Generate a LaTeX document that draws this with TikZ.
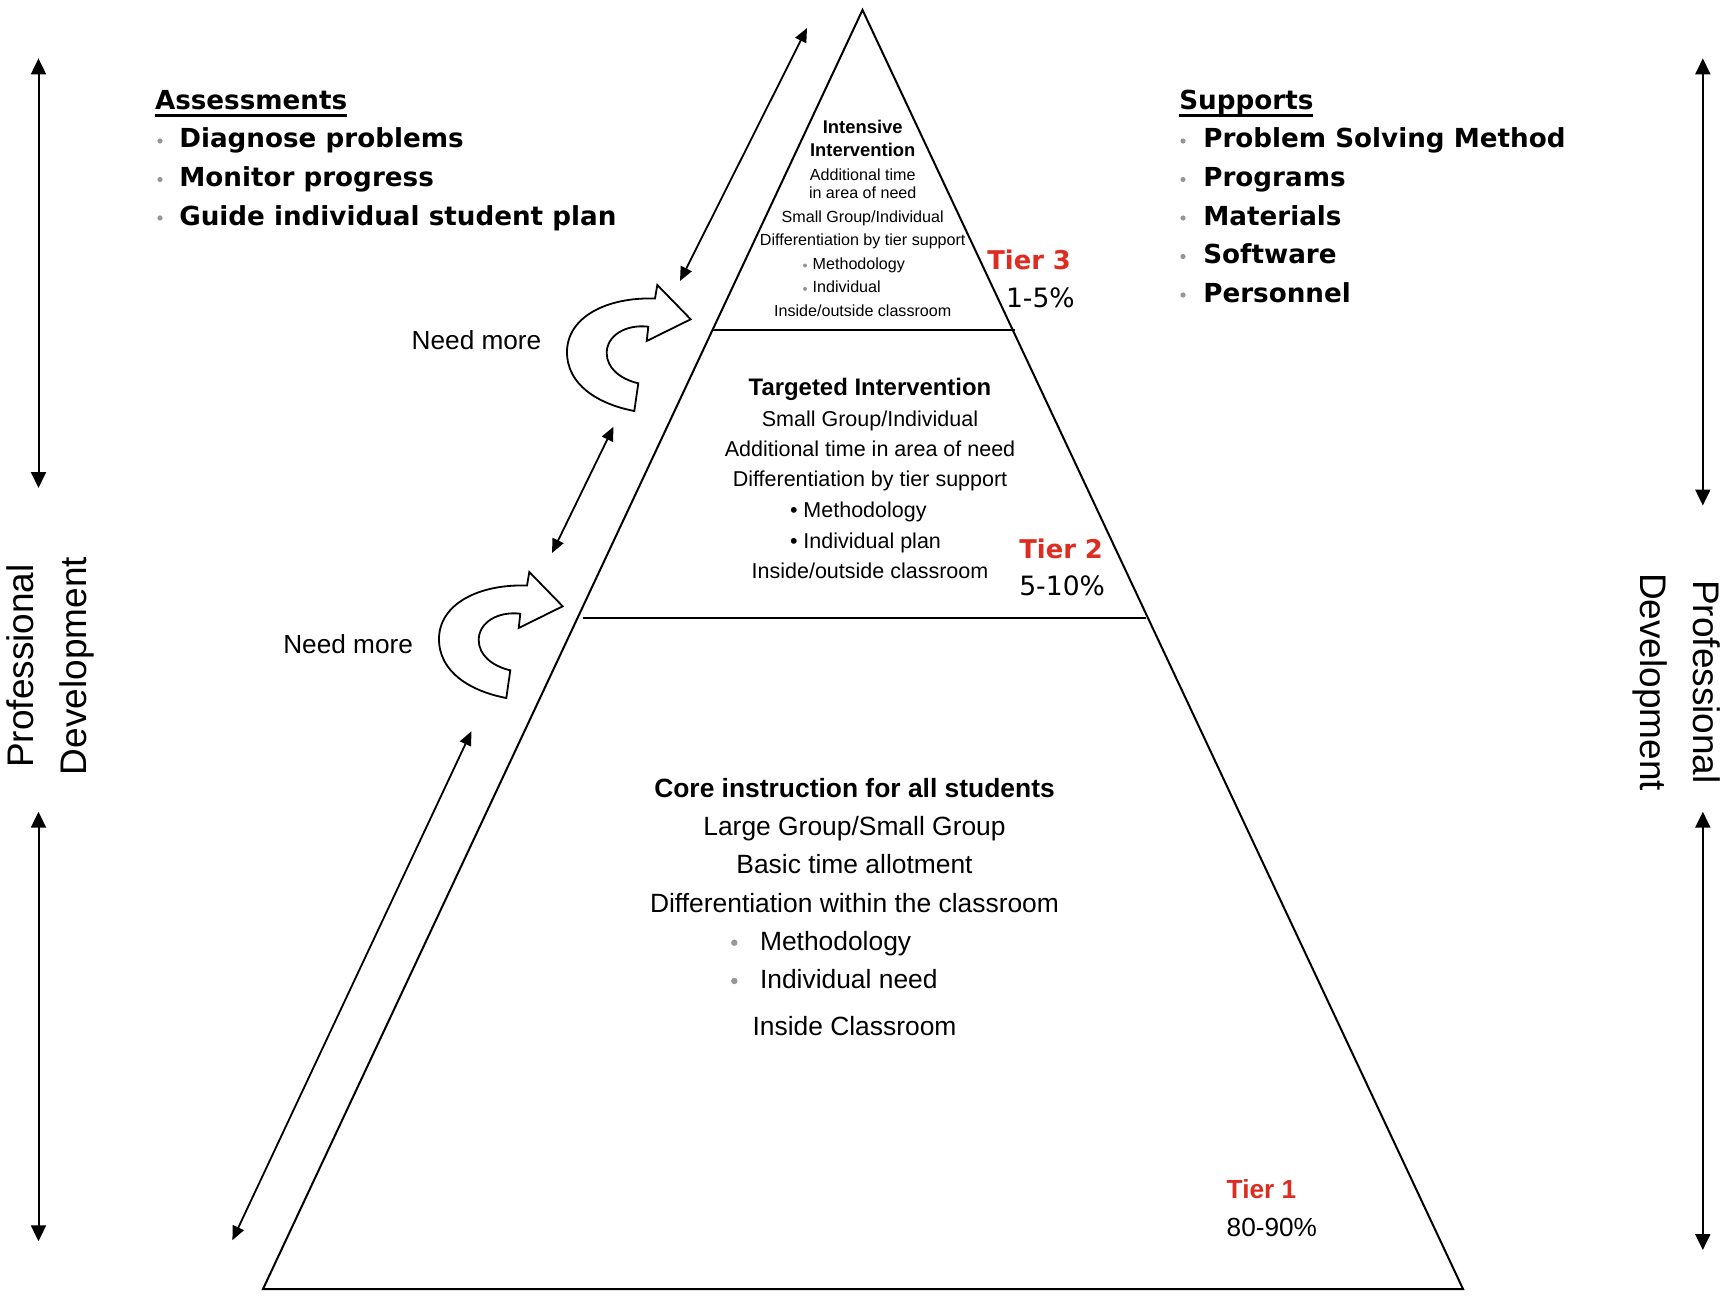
\documentclass[tikz,border=0pt]{standalone}
\usepackage{fontspec}
\setmainfont{Liberation Sans}
\newfontfamily\verd{DejaVu Sans}
\usetikzlibrary{arrows.meta}
\definecolor{tierred}{RGB}{222,44,32}
\definecolor{bulgray}{RGB}{150,150,150}
\begin{document}
\begin{tikzpicture}[x=0.5pt,y=-0.5pt,
  txt/.style={inner sep=0pt,outer sep=0pt},
  vhead/.style={txt,anchor=base west,font=\verd\bfseries\fontsize{13.1}{15}\selectfont},
  vitem/.style={txt,anchor=base west,font=\verd\bfseries\fontsize{13.1}{15}\selectfont},
  tthree/.style={txt,anchor=base,font=\fontsize{8.05}{9}\selectfont},
  tthreeb/.style={txt,anchor=base,font=\bfseries\fontsize{9.2}{10}\selectfont},
  ttwo/.style={txt,anchor=base,font=\fontsize{10.75}{12}\selectfont},
  ttwob/.style={txt,anchor=base,font=\bfseries\fontsize{11.95}{13}\selectfont},
  tone/.style={txt,anchor=base,font=\fontsize{13.2}{15}\selectfont},
  toneb/.style={txt,anchor=base,font=\bfseries\fontsize{13.2}{15}\selectfont},
  tierv/.style={txt,anchor=base west,text=tierred,font=\verd\bfseries\fontsize{12.9}{15}\selectfont},
  pctv/.style={txt,anchor=base west,font=\verd\fontsize{13.3}{15}\selectfont},
  needmore/.style={txt,anchor=base west,font=\fontsize{13.1}{15}\selectfont},
  profdev/.style={txt,align=center,font=\fontsize{18.5}{26.5}\selectfont},
  pyr/.style={line width=1pt,line join=miter},
  dbl/.style={line width=0.9pt,{Triangle[length=7pt,width=6pt]}-{Triangle[length=7pt,width=6pt]}},
  vdbl/.style={line width=1pt,{Triangle[length=8pt,width=7.5pt]}-{Triangle[length=8pt,width=7.5pt]}},
  uturn/.style={line width=0.9pt,fill=white,line join=miter},
  gbul/.style={fill=bulgray}
]
\useasboundingbox (0,0) rectangle (1727,1295);

% ---------- pyramid ----------
\coordinate (apex) at (862.5,10);
\coordinate (bl) at (263,1289);
\coordinate (br) at (1463,1289);
\draw[pyr] (apex) -- (bl) -- (br) -- cycle;
\coordinate (t3l) at (711.7,330);
\coordinate (t3r) at (1015,330);
\draw[pyr] (t3l) -- (t3r);
\coordinate (t2l) at (582.7,617.7);
\coordinate (t2r) at (1145.5,617.7);
\draw[pyr] (t2l) -- (t2r);

% ---------- Tier 3 text ----------
\node[tthreeb] (i1) at (862.7,133.3) {Intensive};
\node[tthreeb] (i2) at (862.7,156) {Intervention};
\node[tthree] (i3) at (862.7,180) {Additional time};
\node[tthree] (i4) at (862.7,198.3) {in area of need};
\node[tthree] (i5) at (862.7,222.7) {Small Group/Individual};
\node[tthree] (i6) at (862.7,245) {Differentiation by tier support};
\node[tthree,anchor=base west] (i7) at (812.7,269.3) {Methodology};
\node[tthree,anchor=base west] (i8) at (812.7,292.7) {Individual};
\node[tthree] (i9) at (862.7,316) {Inside/outside classroom};
\fill[gbul] (805,265.5) circle (1pt);
\fill[gbul] (805,288.9) circle (1pt);
\node[tierv] (tier3) at (987.3,269.3) {Tier 3};
\node[pctv] (pct3) at (1006,307.3) {1-5\%};

% ---------- Tier 2 text ----------
\node[ttwob] (g1) at (870,395) {Targeted Intervention};
\node[ttwo] (g2) at (870,426) {Small Group/Individual};
\node[ttwo] (g3) at (870,456.7) {Additional time in area of need};
\node[ttwo] (g4) at (870,486.7) {Differentiation by tier support};
\node[ttwo,anchor=base west] (g5) at (790,517.7) {• Methodology};
\node[ttwo,anchor=base west] (g6) at (790,548.3) {• Individual plan};
\node[ttwo] (g7) at (870,578.3) {Inside/outside classroom};
\node[tierv] (tier2) at (1019.3,558.3) {Tier 2};
\node[pctv] (pct2) at (1019.3,595) {5-10\%};

% ---------- Tier 1 text ----------
\node[toneb] (c1) at (854.5,797.3) {Core instruction for all students};
\node[tone] (c2) at (854.5,835) {Large Group/Small Group};
\node[tone] (c3) at (854.5,873.3) {Basic time allotment};
\node[tone] (c4) at (854.5,912.7) {Differentiation within the classroom};
\node[tone,anchor=base west] (c5) at (760,950) {Methodology};
\node[tone,anchor=base west] (c6) at (760,988.3) {Individual need};
\node[tone] (c7) at (854.5,1035) {Inside Classroom};
\fill[gbul] (734.3,942.7) circle (1.6pt);
\fill[gbul] (734.3,981) circle (1.6pt);
\node[txt,anchor=base west,text=tierred,font=\bfseries\fontsize{13.1}{15}\selectfont] (tier1) at (1226.7,1198.3) {Tier 1};
\node[txt,anchor=base west,font=\fontsize{13.1}{15}\selectfont] (pct1) at (1226.7,1236) {80-90\%};

% ---------- Assessments ----------
\node[vhead] (ahead) at (155,109.5) {Assessments};
\draw[line width=1pt] ([yshift=-3pt]ahead.base west) -- ([yshift=-3pt]ahead.base east);
\node[vitem] (a1) at (179.3,148) {Diagnose problems};
\node[vitem] (a2) at (179.3,186.5) {Monitor progress};
\node[vitem] (a3) at (179.3,225) {Guide individual student plan};
\foreach \yy in {148,186.5,225} \fill[gbul] (160,\yy-7) circle (1.3pt);

% ---------- Supports ----------
\node[vhead] (shead) at (1179.3,109.5) {Supports};
\draw[line width=1pt] ([yshift=-3pt]shead.base west) -- ([yshift=-3pt]shead.base east);
\node[vitem] (s1) at (1203.3,148) {Problem Solving Method};
\node[vitem] (s2) at (1203.3,186.5) {Programs};
\node[vitem] (s3) at (1203.3,225) {Materials};
\node[vitem] (s4) at (1203.3,263.5) {Software};
\node[vitem] (s5) at (1203.3,302) {Personnel};
\foreach \yy in {148,186.5,225,263.5,302} \fill[gbul] (1183,\yy-7) circle (1.3pt);

% ---------- Professional Development ----------
\node[profdev,rotate=90] (pdl) at (50,666) {Professional\\Development};
\node[profdev,rotate=-90] (pdr) at (1677,682) {Professional\\Development};

% ---------- vertical arrows ----------
\coordinate (lva) at (38.5,58.4);
\coordinate (lvb) at (38.5,488);
\coordinate (lvc) at (38.5,811.7);
\coordinate (lvd) at (38.5,1241.3);
\coordinate (rva) at (1702.8,58.4);
\coordinate (rvb) at (1702.8,505.5);
\coordinate (rvc) at (1702.8,811.7);
\coordinate (rvd) at (1702.8,1250);
\draw[vdbl] (lva) -- (lvb);
\draw[vdbl] (lvc) -- (lvd);
\draw[vdbl] (rva) -- (rvb);
\draw[vdbl] (rvc) -- (rvd);

% ---------- slanted arrows ----------
\coordinate (d1a) at (807,28);
\coordinate (d1b) at (680,281);
\coordinate (d2a) at (613.5,426.7);
\coordinate (d2b) at (552,553);
\coordinate (d3a) at (471.4,731.3);
\coordinate (d3b) at (232.4,1240.2);
\draw[dbl] (d1a) -- (d1b);
\draw[dbl] (d2a) -- (d2b);
\draw[dbl] (d3a) -- (d3b);

% ---------- Need more ----------
\node[needmore] (nm1) at (411.7,349.3) {Need more};
\node[needmore] (nm2) at (283.3,653.3) {Need more};

% ---------- U-turn arrows ----------
\foreach \dx/\dy in {0/0,-128/287}{
\begin{scope}[shift={(\dx,\dy)}]
\draw[uturn] (634.3,411) .. controls (598,404) and (567,385) .. (567,352)
  .. controls (567,318) and (605,297) .. (655,298.5)
  -- (657.3,285) -- (690.7,319.3) -- (646.7,341) -- (648.3,326.7)
  .. controls (625,324) and (606.7,336) .. (606.7,353)
  .. controls (606.7,368) and (620,379) .. (638.3,383.3) -- cycle;
\end{scope}}
\end{tikzpicture}
\end{document}
